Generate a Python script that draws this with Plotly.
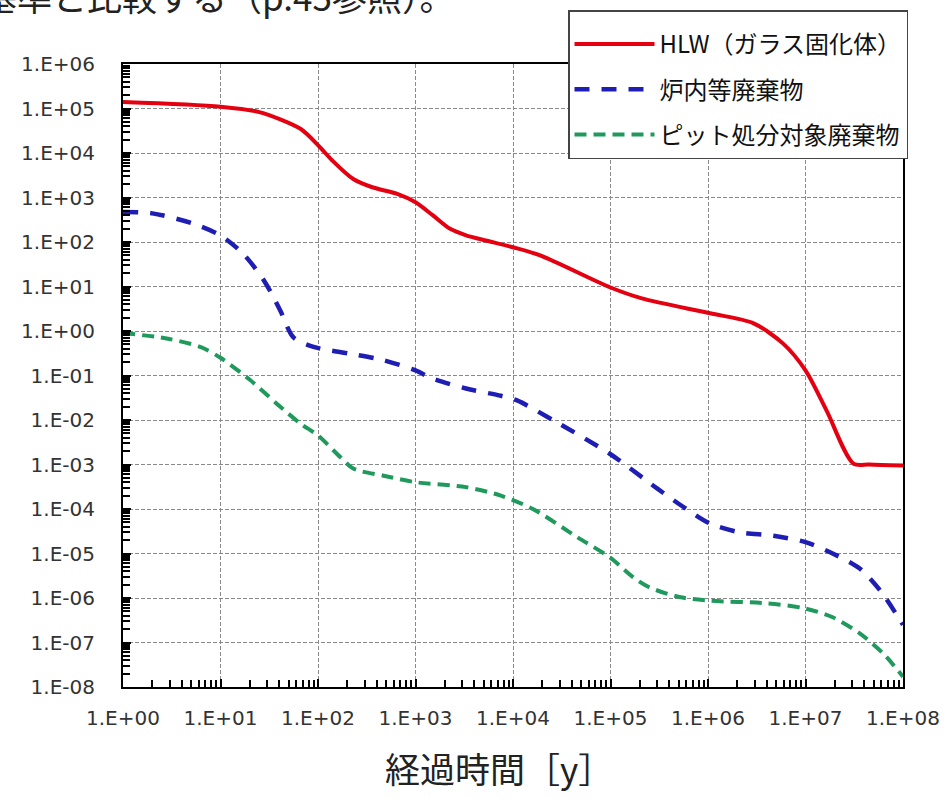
import plotly.graph_objects as go

# ---- data ----
series_names = ["HLW（ガラス固化体）", "炉内等廃棄物", "ピット処分対象廃棄物"]

hlw_t = [1, 10, 25, 66, 100, 140, 230, 360, 650, 1000, 1500, 2240, 3300, 5400, 1e4,
         1.9e4, 1e5, 2.1e5, 1.05e6, 2.9e6, 5.9e6, 1e7, 1.65e7, 3.1e7, 4.5e7, 1e8]
hlw_v = [1.4e5, 1.1e5, 8.3e4, 3.5e4, 1.5e4, 6.8e3, 2.6e3, 1.7e3, 1.2e3, 7.8e2, 4.0e2,
         2.0e2, 1.41e2, 1.07e2, 7.6e1, 5.0e1, 9.5, 5.4, 2.5, 1.5, 0.52, 0.13, 1.6e-2,
         1.05e-3, 1.0e-3, 9.5e-4]

reactor_t = [1, 2, 5.2, 10, 17, 28, 41, 56, 90, 210, 470, 1000, 1500, 3300, 7500,
             1.1e4, 2.6e4, 1e5, 3e5, 6e5, 1.05e6, 2.1e6, 4.7e6, 1e7, 1.9e7, 3.6e7,
             5.8e7, 1e8]
reactor_v = [470, 440, 260, 140, 55, 13.5, 2.9, 0.72, 0.44, 0.31, 0.22, 0.13, 0.085,
             0.051, 0.035, 0.0275, 0.0098, 1.7e-3, 2.9e-4, 1.0e-4, 4.7e-5, 3.0e-5,
             2.5e-5, 1.8e-5, 1.0e-5, 4.6e-6, 1.5e-6, 2.5e-7]

pit_t = [1, 2.8, 6.2, 10, 20, 38, 66, 100, 170, 230, 470, 1000, 3300, 7500, 1.6e4,
         4.6e4, 1e5, 1.7e5, 2.5e5, 5.1e5, 1.05e6, 4e6, 1e7, 1.9e7, 3.6e7, 6.3e7, 1e8]
pit_v = [0.9, 0.68, 0.44, 0.25, 0.08, 0.023, 8.3e-3, 4.5e-3, 1.45e-3, 8.1e-4, 5.6e-4,
         4.0e-4, 3.1e-4, 2.0e-4, 1.0e-4, 2.3e-5, 8.0e-6, 2.95e-6, 1.74e-6, 1.05e-6,
         8.7e-7, 7.6e-7, 5.8e-7, 3.7e-7, 1.6e-7, 5.6e-8, 1.7e-8]

x_tickvals = [1, 1e1, 1e2, 1e3, 1e4, 1e5, 1e6, 1e7, 1e8]
x_ticktext = ["1.E+00", "1.E+01", "1.E+02", "1.E+03", "1.E+04", "1.E+05", "1.E+06",
              "1.E+07", "1.E+08"]
y_tickvals = [1e6, 1e5, 1e4, 1e3, 1e2, 1e1, 1, 1e-1, 1e-2, 1e-3, 1e-4, 1e-5, 1e-6,
              1e-7, 1e-8]
y_ticktext = ["1.E+06", "1.E+05", "1.E+04", "1.E+03", "1.E+02", "1.E+01", "1.E+00",
              "1.E-01", "1.E-02", "1.E-03", "1.E-04", "1.E-05", "1.E-06", "1.E-07",
              "1.E-08"]

x_title = "経過時間［y］"
top_text = "基準と比較する（p.45参照）。"

# ---- figure ----
W, H = 950, 799
ML, MR, MT, MB = 123, 47, 64, 112
PW, PH = W - ML - MR, H - MT - MB

fig = go.Figure()
fig.add_trace(go.Scatter(x=hlw_t, y=hlw_v, name=series_names[0], mode="lines",
                         legendgroup="a",
                         line=dict(color="#e40010", width=4, shape="spline", smoothing=0.8)))
fig.add_trace(go.Scatter(x=reactor_t, y=reactor_v, name=series_names[1], mode="lines",
                         legendgroup="b",
                         line=dict(color="#1e1eb4", width=4.5, dash="15px,12px",
                                   shape="spline", smoothing=0.8)))
fig.add_trace(go.Scatter(x=pit_t, y=pit_v, name=series_names[2], mode="lines",
                         legendgroup="c",
                         line=dict(color="#1f9a5c", width=4, dash="12px,7px",
                                   shape="spline", smoothing=0.8)))

tickfont = dict(family="DejaVu Sans", size=20, color="#333333")
grid = dict(showgrid=True, gridcolor="#8a8a8a", gridwidth=1, griddash="4px,2px")

fig.update_xaxes(type="log", range=[0, 8], tickvals=x_tickvals, ticktext=x_ticktext,
                 tickfont=tickfont, ticks="inside", ticklen=8, tickwidth=2,
                 tickcolor="black", showline=True, linecolor="black", linewidth=2,
                 mirror=True, zeroline=False, ticklabelstandoff=12,
                 minor=dict(ticks="inside", ticklen=7, tickwidth=1.5,
                            tickcolor="black", dtick="D1", showgrid=False),
                 **grid)
fig.update_yaxes(type="log", range=[-8, 6], tickvals=y_tickvals, ticktext=y_ticktext,
                 tickfont=tickfont, ticks="inside", ticklen=8, tickwidth=2,
                 tickcolor="black", showline=True, linecolor="black", linewidth=2,
                 mirror=True, zeroline=False, ticklabelstandoff=22,
                 minor=dict(ticks="inside", ticklen=7, tickwidth=1.5,
                            tickcolor="black", dtick="D1", showgrid=False),
                 **grid)

# x-axis title (slightly left of the plot centre, as in the reference)
fig.add_annotation(text=x_title, xref="paper", yref="paper",
                   x=(499 - ML) / PW, y=-(767 - (H - MB)) / PH, xanchor="center",
                   yanchor="middle", showarrow=False,
                   font=dict(family="Noto Sans CJK JP", size=35, color="#222222"))

# sentence cut off at the top edge of the picture
fig.add_annotation(text=top_text, xref="paper", yref="paper",
                   x=(-20 - ML) / PW, y=1 + (MT + 4) / PH, xanchor="left",
                   yanchor="middle", showarrow=False,
                   font=dict(family="Noto Sans CJK JP", size=35, color="#222222"))

fig.update_layout(
    width=W, height=H,
    margin=dict(l=ML, r=MR, t=MT, b=MB, autoexpand=False),
    paper_bgcolor="white", plot_bgcolor="white",
    showlegend=True,
    legend=dict(x=(568 - ML) / PW, y=1 + (MT - 10) / PH, xanchor="left",
                yanchor="top", bgcolor="white", bordercolor="#444444",
                borderwidth=1.5, itemwidth=80, tracegroupgap=11,
                title=dict(text=" ", font=dict(size=8)),
                font=dict(family="Noto Sans CJK JP", size=24, color="#111111")),
)

fig.write_html("out.html", config={"displayModeBar": False},
               post_script="document.body.style.margin='0px';")
